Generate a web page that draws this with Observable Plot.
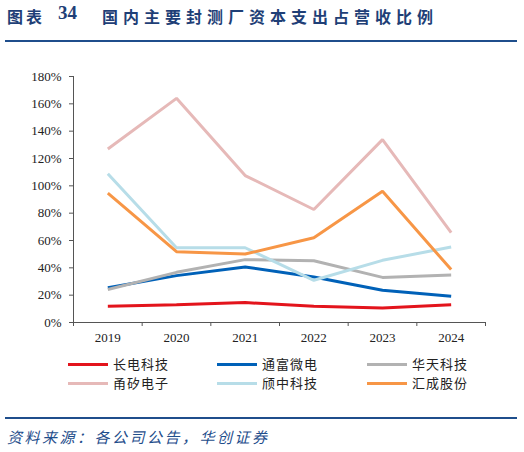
<!DOCTYPE html>
<html>
<head>
<meta charset="utf-8">
<script src="https://cdn.jsdelivr.net/npm/d3@7"></script>
<script src="https://cdn.jsdelivr.net/npm/@observablehq/plot@0.6"></script>
<style>
  body { margin: 0; background: #fff; }
  #page { position: relative; width: 524px; height: 452px; overflow: hidden; font-family: "Noto Sans CJK SC", sans-serif; }
  .title { position: absolute; top: 4px; font-size: 16px; font-weight: bold; color: #1f3f77; white-space: nowrap; }
  .rule { position: absolute; left: 5px; width: 512px; height: 2px; background: #1f4e8c; }
  #chart { position: absolute; left: 0; top: 60px; }
  #chart svg text { font-family: "Liberation Serif", "Times New Roman", serif !important; font-size: 13px; fill: #222; }
  .leg { position: absolute; font-size: 13px; color: #222; letter-spacing: 1px; white-space: nowrap; }
  .sw { position: absolute; width: 40px; height: 3px; }
  .src { position: absolute; left: 7px; top: 426px; font-size: 15px; font-style: italic; color: #1f4e8c; letter-spacing: 2.5px; white-space: nowrap; }
</style>
</head>
<body>
<div id="page">
  <div class="title" style="left:7px;letter-spacing:3px">图表</div>
  <div class="title" style="left:58px;font-family:'Liberation Serif',serif;font-size:19px;top:2px">34</div>
  <div class="title" style="left:102px;letter-spacing:5px">国内主要封测厂资本支出占营收比例</div>
  <div class="rule" style="top:40px"></div>
  <div id="chart"></div>
  <div id="legend"></div>
  <div class="rule" style="top:417px"></div>
  <div class="src">资料来源：各公司公告，华创证券</div>
</div>
<script>
const years = [2019, 2020, 2021, 2022, 2023, 2024];
const names = ["长电科技", "通富微电", "华天科技", "甬矽电子", "颀中科技", "汇成股份"];
const colors = ["#e3141c", "#0061b8", "#b2b2b2", "#e6b9b8", "#b7dde8", "#f79646"];

const jcet = [11.9, 12.9, 14.6, 11.9, 10.7, 12.9];
const tongfu = [25.5, 34.3, 40.6, 33.3, 23.6, 19.2];
const huatian = [24.1, 36.7, 46.0, 45.2, 33.0, 34.8];
const forehope = [127.0, 164.0, 107.5, 82.7, 133.8, 65.7];
const chipmore = [108.8, 54.7, 54.7, 30.9, 45.5, 55.2];
const unionsemi = [94.6, 51.8, 50.1, 62.0, 96.0, 38.7];

const series = [jcet, tongfu, huatian, forehope, chipmore, unionsemi];
const yTicks = [0, 20, 40, 60, 80, 100, 120, 140, 160, 180];
const bounds = [2018.5, ...years.map(y => y + 0.5)];

const data = [];
series.forEach((vals, i) => vals.forEach((v, j) => data.push({name: names[i], year: years[j], value: v})));

const serif = "Liberation Serif";
const chart = Plot.plot({
  width: 524,
  height: 290,
  marginTop: 16,
  marginBottom: 28,
  marginLeft: 73,
  marginRight: 39,
  style: {fontFamily: serif, fontSize: "13px", color: "#222"},
  x: {type: "linear", domain: [2018.5, 2024.5]},
  y: {domain: [0, 180]},
  color: {domain: names, range: colors},
  marks: [
    Plot.axisY({ticks: yTicks, tickSize: 4, tickPadding: 8, tickFormat: d => d + "%", label: null, stroke: "#555", fontFamily: serif, fontSize: 13}),
    Plot.axisX({ticks: bounds, tickSize: 4, tickFormat: () => "", label: null, stroke: "#555"}),
    Plot.axisX({ticks: years, tickSize: 0, tickPadding: 10, tickFormat: d => String(d), label: null, fontFamily: serif, fontSize: 13}),
    Plot.ruleX([2018.5], {stroke: "#555"}),
    Plot.ruleY([0], {stroke: "#555"}),
    Plot.line(data, {x: "year", y: "value", z: "name", stroke: "name", strokeWidth: 3, strokeLinejoin: "miter", strokeLinecap: "butt"})
  ]
});
document.getElementById("chart").append(chart);

const leg = document.getElementById("legend");
const colX = [68, 217, 367];
const rowY = [364, 383];
names.forEach((n, i) => {
  const x = colX[i % 3], y = rowY[Math.floor(i / 3)];
  const sw = document.createElement("div");
  sw.className = "sw";
  sw.style.left = x + "px";
  sw.style.top = (y - 1.5) + "px";
  sw.style.background = colors[i];
  leg.append(sw);
  const t = document.createElement("div");
  t.className = "leg";
  t.style.left = (x + 45) + "px";
  t.style.top = (y - 10) + "px";
  t.textContent = n;
  leg.append(t);
});
</script>
</body>
</html>
